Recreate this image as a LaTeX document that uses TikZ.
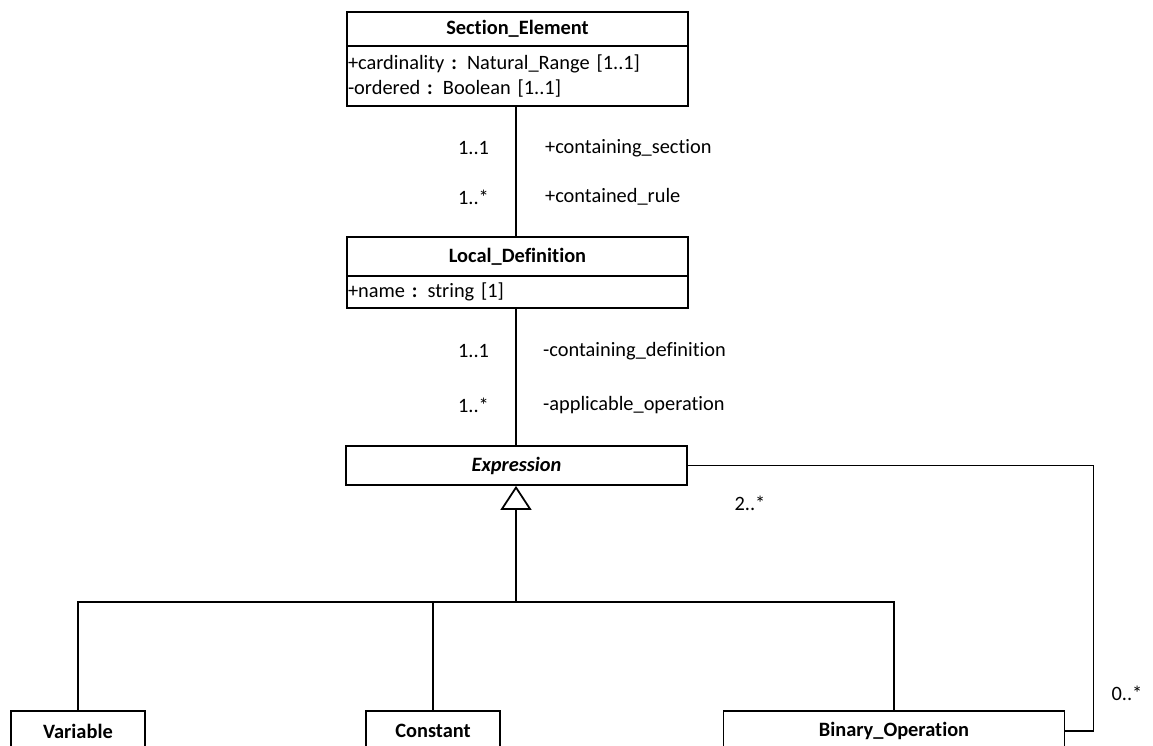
\documentclass[tikz,border=0pt]{standalone}
\usepackage{fontspec}
\setmainfont{Carlito}[Ligatures=NoCommon]
\usetikzlibrary{arrows.meta, positioning}

\begin{document}
\begin{tikzpicture}[x=0.2mm, y=-0.2mm,
      font=\fontsize{11.6}{14}\selectfont,
      head/.style={draw, line width=1pt, minimum width=68.2mm, minimum height=7.8mm, inner sep=0pt, font=\fontsize{11.6}{14}\selectfont\bfseries},
      attr/.style={draw, line width=1pt, text width=67.8mm, align=left, inner xsep=0.2mm, inner ysep=0pt},
      leaf/.style={draw, line width=1pt, minimum width=26.8mm, minimum height=8mm, inner sep=0pt, font=\fontsize{11.6}{14}\selectfont\bfseries},
      assoc/.style={line width=0.6pt},
      gen/.style={line width=0.6pt, -{Triangle[open, length=4.8mm, width=6.2mm, line width=1pt]}},
      mult/.style={inner sep=1pt}
    ]
      \useasboundingbox (0,0) rectangle (1153,745);

      % Section_Element
      \node[head, minimum height=6.8mm] (sechead) at (517.5,29) {Section\_Element};
      \node[attr, minimum height=12mm] (secattr) at (517.5,76)
        {+cardinality \textbf{:} Natural\_Range [1..1]\\-ordered \textbf{:} Boolean [1..1]};

      % Local_Definition
      \node[head] (lochead) at (517.5,256.5) {Local\_Definition};
      \node[attr, minimum height=6.4mm] (locattr) at (517.5,292) {+name \textbf{:} string [1]};

      % Expression
      \node[head, font=\fontsize{11.6}{14}\selectfont\bfseries\itshape] (expr) at (516.5,465.5) {Expression};

      % Subclasses
      \node[leaf] (var) at (78,731) {Variable};
      \node[leaf] (con) at (433,731) {Constant};
      \node[head, minimum height=8mm] (bin) at (894,731) {Binary\_Operation};

      % Associations
      \draw[assoc] (secattr.south -| 516,0) -- (lochead.north -| 516,0);
      \node[mult, anchor=west] (m1) at (456,148) {1..1};
      \node[mult, anchor=west] (r1) at (543,148) {+containing\_section};
      \node[mult, anchor=west] (m2) at (456,197) {1..*};
      \node[mult, anchor=west] (r2) at (543,197) {+contained\_rule};

      \draw[assoc] (locattr.south -| 516,0) -- (expr.north -| 516,0);
      \node[mult, anchor=west] (m3) at (456,351) {1..1};
      \node[mult, anchor=west] (r3) at (541,351) {-containing\_definition};
      \node[mult, anchor=west] (m4) at (456,405) {1..*};
      \node[mult, anchor=west] (r4) at (541,405) {-applicable\_operation};

      % Operands
      \draw[assoc] (expr.east) -- ++(406,0) |- (bin.east);
      \node[mult] (m5) at (750,503) {2..*};
      \node[mult] (m6) at (1127,693) {0..*};

      % Generalization
      \coordinate (junc) at (516,602);
      \draw[assoc] (var.north) |- (junc) -| (bin.north);
      \draw[assoc] (con.north) -- (con.north |- junc);
      \draw[gen] (junc) -- (expr.south -| junc);
    \end{tikzpicture}
\end{document}
